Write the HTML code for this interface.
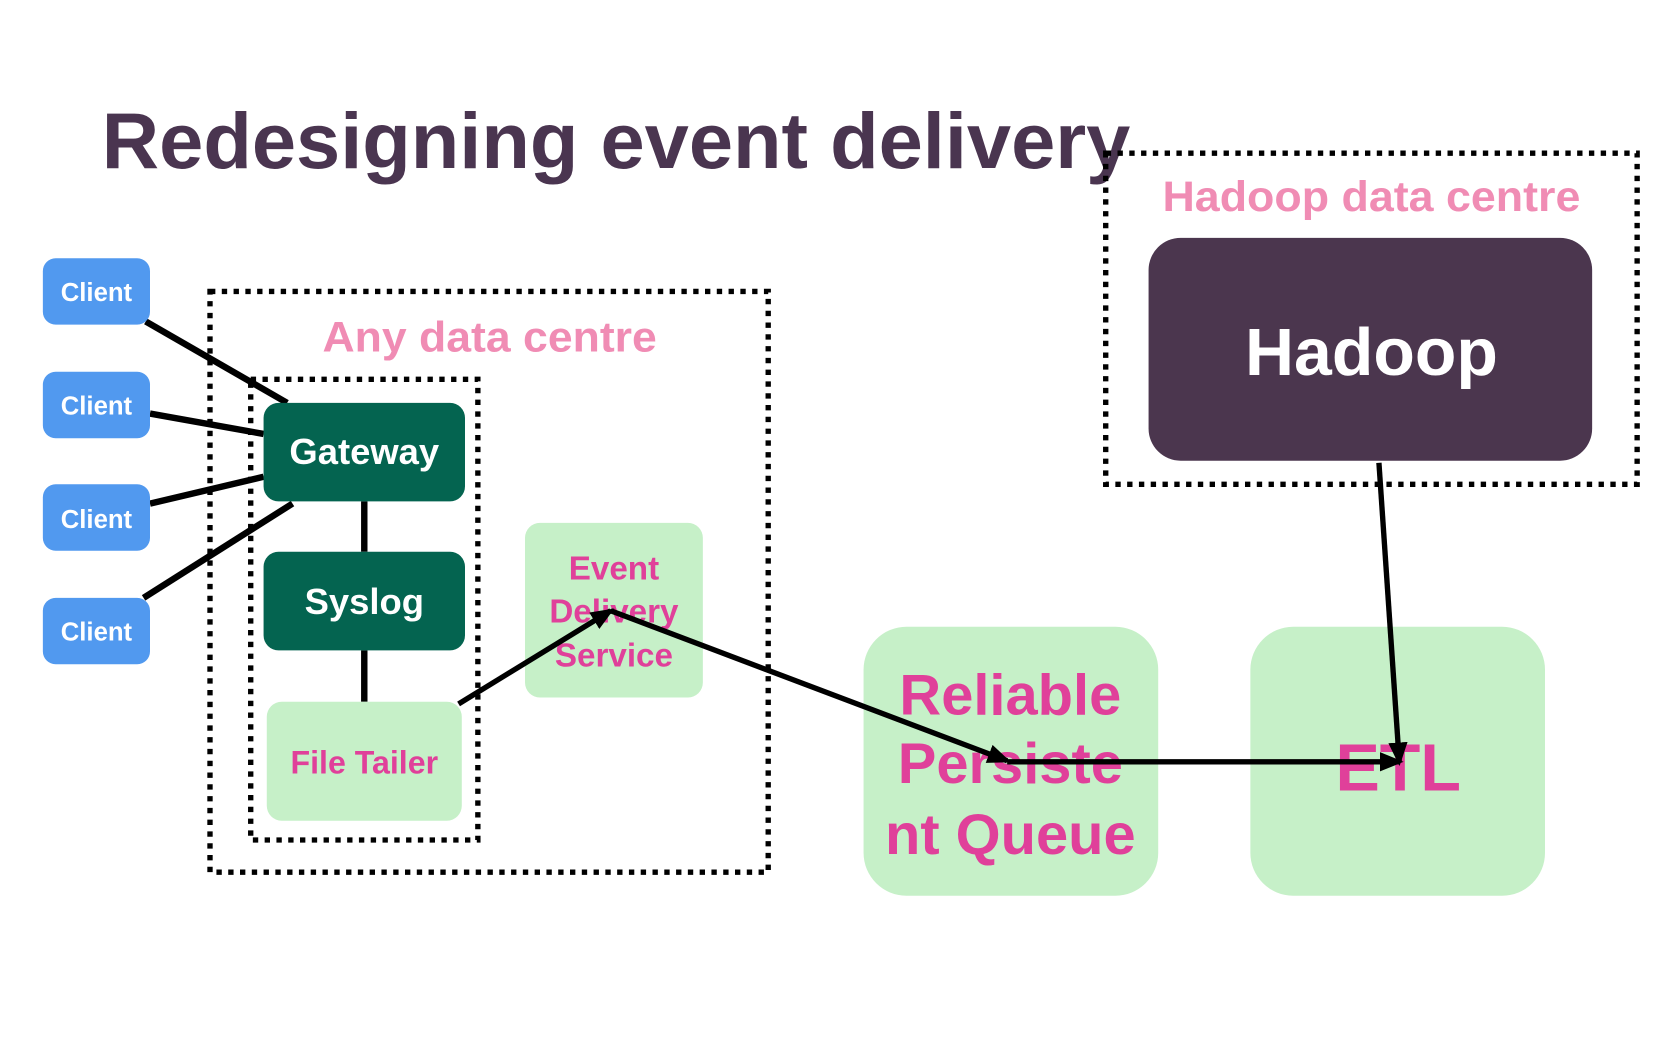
<!DOCTYPE html>
<html><head><meta charset="utf-8"><style>html,body{margin:0;padding:0;background:#fff}svg{display:block}</style></head>
<body>
<svg width="1680" height="1050" viewBox="0 0 1568 980" xmlns="http://www.w3.org/2000/svg" font-family="Liberation Sans, sans-serif" font-weight="bold">
<defs>
<marker id="ah" markerWidth="4.4" markerHeight="3.6" refX="3.6" refY="1.8" orient="auto" markerUnits="strokeWidth">
<path d="M0,0 L4.4,1.8 L0,3.6 Z" fill="#000"/></marker>
</defs>
<text x="95" y="157" font-size="74" fill="#4a3550" textLength="960" lengthAdjust="spacingAndGlyphs">Redesigning event delivery</text>

<rect x="1032" y="143" width="496" height="309" fill="none" stroke="#000" stroke-width="5" stroke-dasharray="5 6"/>
<text x="1280" y="197" font-size="40" fill="#f08cb4" text-anchor="middle" textLength="390" lengthAdjust="spacingAndGlyphs">Hadoop data centre</text>
<rect x="1072" y="222" width="414" height="208" rx="30" fill="#4b364e"/>
<text x="1280" y="350" font-size="62" fill="#fff" text-anchor="middle" textLength="236" lengthAdjust="spacingAndGlyphs">Hadoop</text>

<rect x="196" y="272" width="521" height="542" fill="none" stroke="#000" stroke-width="5" stroke-dasharray="5 6"/>
<text x="457" y="328" font-size="40" fill="#f08cb4" text-anchor="middle" textLength="312" lengthAdjust="spacingAndGlyphs">Any data centre</text>
<rect x="234" y="354" width="212" height="430" fill="none" stroke="#000" stroke-width="5" stroke-dasharray="5 6"/>

<g stroke="#000" stroke-width="6">
<line x1="136" y1="300" x2="268" y2="376"/>
<line x1="140" y1="386" x2="246" y2="405"/>
<line x1="140" y1="470" x2="246" y2="445"/>
<line x1="134" y1="558" x2="273" y2="470"/>
<line x1="340" y1="468" x2="340" y2="515"/>
<line x1="340" y1="607" x2="340" y2="655"/>
</g>

<g fill="#5199ef">
<rect x="40" y="241" width="100" height="62" rx="12"/>
<rect x="40" y="347" width="100" height="62" rx="12"/>
<rect x="40" y="452" width="100" height="62" rx="12"/>
<rect x="40" y="558" width="100" height="62" rx="12"/>
</g>
<g fill="#fff" font-size="24" text-anchor="middle">
<text x="90" y="281">Client</text>
<text x="90" y="387">Client</text>
<text x="90" y="493">Client</text>
<text x="90" y="598">Client</text>
</g>

<rect x="246" y="376" width="188" height="92" rx="14" fill="#046450"/>
<text x="340" y="433" font-size="34" fill="#fff" text-anchor="middle">Gateway</text>
<rect x="246" y="515" width="188" height="92" rx="14" fill="#046450"/>
<text x="340" y="573" font-size="34" fill="#fff" text-anchor="middle">Syslog</text>
<rect x="249" y="655" width="182" height="111" rx="14" fill="#c6f0c8"/>
<text x="340" y="722" font-size="30" fill="#e0409a" text-anchor="middle">File Tailer</text>

<rect x="490" y="488" width="166" height="163" rx="14" fill="#c6f0c8"/>
<g font-size="31" fill="#e0409a" text-anchor="middle">
<text x="573" y="541">Event</text>
<text x="573" y="581">Delivery</text>
<text x="573" y="622">Service</text>
</g>

<rect x="806" y="585" width="275" height="251" rx="40" fill="#c6f0c8"/>
<g font-size="54" fill="#e0409a" text-anchor="middle">
<text x="943" y="667">Reliable</text>
<text x="943" y="731">Persiste</text>
<text x="943" y="797">nt Queue</text>
</g>
<rect x="1167" y="585" width="275" height="251" rx="40" fill="#c6f0c8"/>
<text x="1305" y="738" font-size="62" fill="#e0409a" text-anchor="middle">ETL</text>

<g stroke="#000" stroke-width="5" fill="none">
<line x1="428" y1="657" x2="570" y2="570" marker-end="url(#ah)"/>
<line x1="570" y1="570" x2="940" y2="710" marker-end="url(#ah)"/>
<line x1="940" y1="711" x2="1306" y2="711" marker-end="url(#ah)"/>
<line x1="1287" y1="432" x2="1306" y2="711" marker-end="url(#ah)"/>
</g>
</svg>
</body></html>
